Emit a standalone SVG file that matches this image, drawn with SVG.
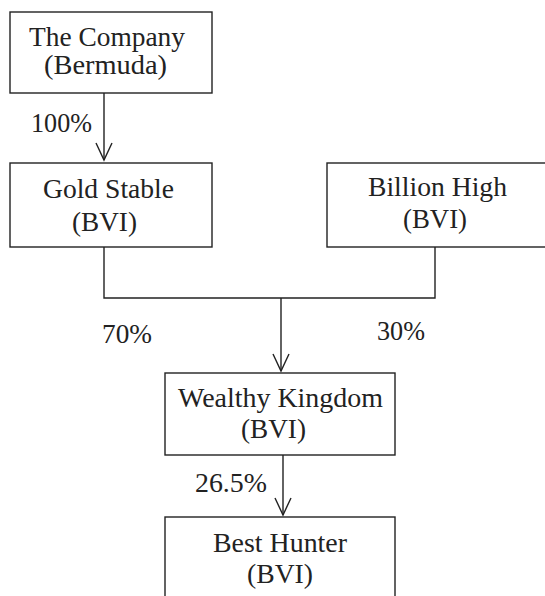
<svg xmlns="http://www.w3.org/2000/svg" width="545" height="596" viewBox="0 0 545 596">
<style>
.box{fill:#fff;stroke:#222;stroke-width:1.4}
.t{font-family:"Liberation Serif","Times New Roman",serif;font-size:27px;fill:#222}
.ln{fill:none;stroke:#222;stroke-width:1.4}
</style>
<defs>
<marker id="ah" viewBox="0 0 20 20" refX="18" refY="10" markerWidth="20" markerHeight="20" markerUnits="userSpaceOnUse" orient="auto">
<path d="M1,2 L18,10 L1,18" fill="none" stroke="#222" stroke-width="1.4"/>
</marker>
</defs>
<rect width="545" height="596" fill="#fff"/>
<g id="connectors">
<line class="ln" x1="104" y1="93" x2="104" y2="160" marker-end="url(#ah)"/>
<polyline class="ln" points="104,247 104,298 435,298 435,247"/>
<line class="ln" x1="281" y1="298" x2="281" y2="371" marker-end="url(#ah)"/>
<line class="ln" x1="283" y1="455" x2="283" y2="515" marker-end="url(#ah)"/>
<text class="t" x="31" y="132" textLength="61" lengthAdjust="spacingAndGlyphs">100%</text>
<text class="t" x="102" y="343" textLength="50" lengthAdjust="spacingAndGlyphs">70%</text>
<text class="t" x="377" y="340" textLength="48" lengthAdjust="spacingAndGlyphs">30%</text>
<text class="t" x="195" y="492" textLength="72" lengthAdjust="spacingAndGlyphs">26.5%</text>
</g>
<g id="company">
<rect class="box" x="10" y="12" width="202" height="81"/>
<text class="t" x="29" y="46" textLength="156" lengthAdjust="spacingAndGlyphs">The Company</text>
<text class="t" x="44" y="74" textLength="123" lengthAdjust="spacingAndGlyphs">(Bermuda)</text>
</g>
<g id="gold-stable">
<rect class="box" x="10" y="163" width="202" height="84"/>
<text class="t" x="43" y="198" textLength="131" lengthAdjust="spacingAndGlyphs">Gold Stable</text>
<text class="t" x="72" y="231" textLength="65" lengthAdjust="spacingAndGlyphs">(BVI)</text>
</g>
<g id="billion-high">
<rect class="box" x="327" y="163" width="230" height="84"/>
<text class="t" x="368" y="196" textLength="139" lengthAdjust="spacingAndGlyphs">Billion High</text>
<text class="t" x="403" y="228" textLength="64" lengthAdjust="spacingAndGlyphs">(BVI)</text>
</g>
<g id="wealthy-kingdom">
<rect class="box" x="165" y="373" width="230" height="82"/>
<text class="t" x="178" y="407" textLength="205" lengthAdjust="spacingAndGlyphs">Wealthy Kingdom</text>
<text class="t" x="241" y="438" textLength="65" lengthAdjust="spacingAndGlyphs">(BVI)</text>
</g>
<g id="best-hunter">
<rect class="box" x="165" y="517" width="230" height="100"/>
<text class="t" x="213" y="552" textLength="134" lengthAdjust="spacingAndGlyphs">Best Hunter</text>
<text class="t" x="247" y="583" textLength="66" lengthAdjust="spacingAndGlyphs">(BVI)</text>
</g>
</svg>
